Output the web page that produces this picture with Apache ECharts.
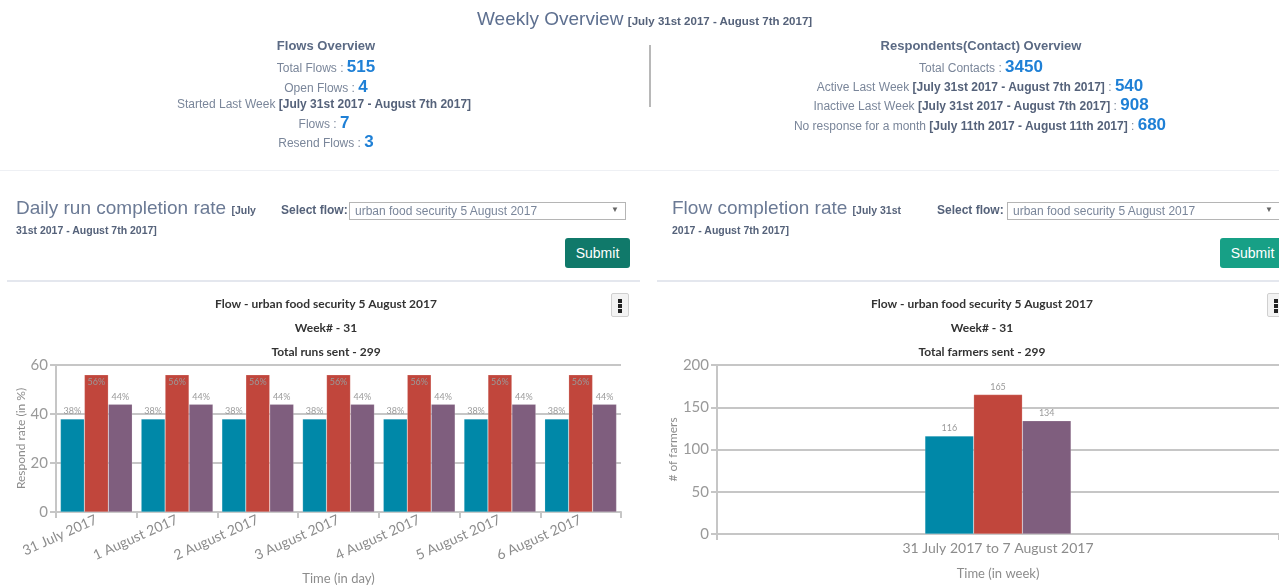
<!DOCTYPE html>
<html>
<head>
<meta charset="utf-8">
<script src="https://cdn.jsdelivr.net/npm/echarts@6/dist/echarts.min.js"></script>
<style>
  html, body { margin:0; padding:0; width:1279px; height:586px; overflow:hidden; background:#fff; }
  #chart { position:absolute; left:0; top:0; width:1279px; height:586px; z-index:0; }
  .ov { position:absolute; z-index:2; white-space:nowrap; font-family:"Liberation Sans", Arial, sans-serif; color:#7a869a; }
  .c { transform:translateX(-50%); }
  .lbl { font-size:12px; color:#7a869a; }
  .b { font-weight:bold; color:#55627a; }
  .num { font-weight:bold; color:#1f80d6; font-size:17px; }
  .hdr { font-size:13px; font-weight:bold; color:#5b6a84; }
  .big { font-size:19px; color:#6b7a95; }
  .sm { font-size:10.5px; font-weight:bold; color:#55627a; }
  .sel { position:absolute; z-index:2; border:1px solid #b5b5b5; background:#fff; box-sizing:border-box; font-family:"Liberation Sans", Arial, sans-serif; font-size:12px; color:#7a869a; padding:1px 5px; }
  .sel .arr { position:absolute; right:6px; top:2px; font-size:8px; color:#666; }
  .btn { position:absolute; z-index:2; color:#fff; font-family:"Liberation Sans", Arial, sans-serif; font-size:14px; text-align:center; line-height:30px; border-radius:3px; }
  .hr { position:absolute; z-index:2; background:#e4e7ee; }
  .menu { position:absolute; z-index:2; width:18px; height:24px; border:1px solid #d0d0d0; background:#f3f3f3; border-radius:2px; box-sizing:border-box; }
  .menu i { position:absolute; left:6px; width:4px; height:4px; background:#222; }
</style>
</head>
<body>
<div id="chart"></div>

<!-- Weekly overview header -->
<div class="ov" style="left:477px; top:8px;"><span style="font-size:19px; color:#5e7090;">Weekly Overview</span> <span class="sm" style="font-size:11.5px;">[July 31st 2017 - August 7th 2017]</span></div>

<div class="ov c hdr" style="left:326px; top:38px;">Flows Overview</div>
<div class="ov c lbl" style="left:326px; top:57px;">Total Flows : <span class="num">515</span></div>
<div class="ov c lbl" style="left:326px; top:77px;">Open Flows : <span class="num">4</span></div>
<div class="ov c lbl" style="left:324px; top:97px;">Started Last Week <span class="b">[July 31st 2017 - August 7th 2017]</span></div>
<div class="ov c lbl" style="left:324px; top:113px;">Flows : <span class="num">7</span></div>
<div class="ov c lbl" style="left:326px; top:132px;">Resend Flows : <span class="num">3</span></div>

<div class="hr" style="left:649px; top:45px; width:2px; height:62px; background:#b8b8b8;"></div>

<div class="ov c hdr" style="left:981px; top:38px;">Respondents(Contact) Overview</div>
<div class="ov c lbl" style="left:981px; top:57px;">Total Contacts : <span class="num">3450</span></div>
<div class="ov c lbl" style="left:980px; top:76px;">Active Last Week <span class="b">[July 31st 2017 - August 7th 2017]</span> : <span class="num">540</span></div>
<div class="ov c lbl" style="left:981px; top:95px;">Inactive Last Week <span class="b">[July 31st 2017 - August 7th 2017]</span> : <span class="num">908</span></div>
<div class="ov c lbl" style="left:980px; top:115px;">No response for a month <span class="b">[July 11th 2017 - August 11th 2017]</span> : <span class="num">680</span></div>

<div class="hr" style="left:0px; top:170px; width:1279px; height:1px; background:#eef0f4;"></div>

<!-- Left panel header -->
<div class="ov big" style="left:16px; top:197px;">Daily run completion rate <span class="sm">[July</span></div>
<div class="ov sm" style="left:16px; top:224px;">31st 2017 - August 7th 2017]</div>
<div class="ov b" style="left:281px; top:203px; font-size:12px; color:#55627a;">Select flow:</div>
<div class="sel" style="left:349px; top:202px; width:277px; height:18px;">urban food security 5 August 2017<span class="arr">&#9660;</span></div>
<div class="btn" style="left:565px; top:238px; width:65px; height:30px; background:#10796a;">Submit</div>
<div class="hr" style="left:7px; top:280px; width:633px; height:2px;"></div>
<div class="menu" style="left:611px; top:293px;"><i style="top:5px"></i><i style="top:10px"></i><i style="top:15px"></i></div>

<!-- Right panel header -->
<div class="ov big" style="left:672px; top:197px;">Flow completion rate <span class="sm">[July 31st</span></div>
<div class="ov sm" style="left:672px; top:224px;">2017 - August 7th 2017]</div>
<div class="ov b" style="left:937px; top:203px; font-size:12px; color:#55627a;">Select flow:</div>
<div class="sel" style="left:1007px; top:202px; width:277px; height:18px;">urban food security 5 August 2017<span class="arr" style="right:10px;">&#9660;</span></div>
<div class="btn" style="left:1220px; top:238px; width:65px; height:30px; background:#17a086;">Submit</div>
<div class="hr" style="left:657px; top:280px; width:622px; height:2px;"></div>
<div class="menu" style="left:1267px; top:293px;"><i style="top:5px"></i><i style="top:10px"></i><i style="top:15px"></i></div>

<script>
// ---- Data ----
const dailyCategories = ['31 July 2017', '1 August 2017', '2 August 2017', '3 August 2017', '4 August 2017', '5 August 2017', '6 August 2017'];
const dailyTeal   = [38, 38, 38, 38, 38, 38, 38];
const dailyRed    = [56, 56, 56, 56, 56, 56, 56];
const dailyPurple = [44, 44, 44, 44, 44, 44, 44];
const dailyYTicks = { min: 0, max: 60, interval: 20 };

const weeklyCategories = ['31 July 2017 to 7 August 2017'];
const weeklyTeal   = [116];
const weeklyRed    = [165];
const weeklyPurple = [134];
const weeklyYTicks = { min: 0, max: 200, interval: 50 };

const seriesNames = ['Series A', 'Series B', 'Series C'];

// ---- Styles ----
const C_TEAL = '#0088a8', C_RED = '#c1463c', C_PURPLE = '#7f5e7e';
const FONT_CH = 'Lato, "Open Sans", sans-serif';
const gridColor = '#c6c6c6';
const lblStyle = { fontSize: 9, color: '#9a9a9a', fontFamily: FONT_CH };

const chart = echarts.init(document.getElementById('chart'), null, { renderer: 'canvas' });

function titles(x, lines) {
  return lines.map((t, i) => ({
    text: t, left: x, top: 293 + i * 24, textAlign: 'center',
    textStyle: { fontSize: 12, fontWeight: 'bold', color: '#333', fontFamily: FONT_CH }
  }));
}

function yAxisCfg(gridIndex, ticks, name, gap) {
  return {
    gridIndex, type: 'value', min: ticks.min, max: ticks.max, interval: ticks.interval,
    name, nameLocation: 'middle', nameGap: gap, nameRotate: 90,
    nameTextStyle: { fontSize: 12, color: '#8c8c8c', fontFamily: FONT_CH },
    axisLine: { show: true, lineStyle: { color: gridColor, width: 2 } },
    axisTick: { show: true, length: 6, lineStyle: { color: gridColor, width: 2 } },
    axisLabel: { fontSize: 15, color: '#999', fontFamily: FONT_CH, margin: 8 },
    splitLine: { lineStyle: { color: gridColor, width: 2 } }
  };
}

function xAxisCfg(gridIndex, cats, name, gap, rotate) {
  return {
    gridIndex, type: 'category', data: cats,
    name, nameLocation: 'middle', nameGap: gap,
    nameTextStyle: { fontSize: 13, color: '#8c8c8c', fontFamily: FONT_CH },
    axisLine: { lineStyle: { color: gridColor, width: 2 } },
    axisTick: { show: true, length: 6, lineStyle: { color: gridColor, width: 2 } },
    axisLabel: { fontSize: 14, color: '#8c8c8c', fontFamily: FONT_CH, rotate: rotate, margin: 7, interval: 0 }
  };
}

function bar(name, xi, data, color, catGap, pos) {
  return {
    name, type: 'bar', xAxisIndex: xi, yAxisIndex: xi, data,
    barGap: '0%', barCategoryGap: catGap,
    itemStyle: { color, borderColor: 'rgba(255,255,255,0.35)', borderWidth: 0.5 },
    label: { show: true, position: pos || 'top', distance: 3, ...lblStyle, formatter: xi === 0 ? '{c}%' : '{c}' },
    animation: false
  };
}

const option = {
  animation: false,
  title: [
    ...titles(321, ['Flow - urban food security 5 August 2017', 'Week# - 31', 'Total runs sent - 299']),
    ...titles(977, ['Flow - urban food security 5 August 2017', 'Week# - 31', 'Total farmers sent - 299'])
  ],
  grid: [
    { left: 56, top: 365, width: 565, height: 153 },
    { left: 717, top: 365, width: 566, height: 169 }
  ],
  xAxis: [
    xAxisCfg(0, dailyCategories, 'Time (in day)', 60, 24),
    xAxisCfg(1, weeklyCategories, 'Time (in week)', 33, 0)
  ],
  yAxis: [
    yAxisCfg(0, dailyYTicks, 'Respond rate (in %)', 24),
    yAxisCfg(1, weeklyYTicks, '# of farmers', 30)
  ],
  series: [
    bar(seriesNames[0], 0, dailyTeal, C_TEAL, '11%'),
    bar(seriesNames[1], 0, dailyRed, C_RED, '11%', 'insideTop'),
    bar(seriesNames[2], 0, dailyPurple, C_PURPLE, '11%'),
    bar(seriesNames[0], 1, weeklyTeal, C_TEAL, '74%'),
    bar(seriesNames[1], 1, weeklyRed, C_RED, '74%'),
    bar(seriesNames[2], 1, weeklyPurple, C_PURPLE, '74%')
  ]
};
chart.setOption(option);
</script>
</body>
</html>
